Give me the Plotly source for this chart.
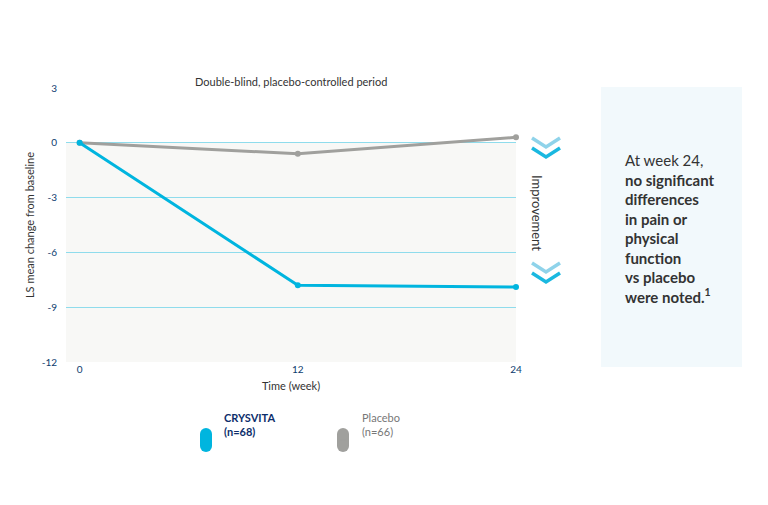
import plotly.graph_objects as go

weeks = [0, 12, 24]
crysvita = [0, -7.8, -7.9]
placebo = [0, -0.6, 0.3]
yticks = [3, 0, -3, -6, -9, -12]
ytick_labels = ["3", "0", "-3", "-6", "-9", "-12"]
xticks = [0, 12, 24]

OFF = 8
W, H = 768 - OFF, 505 - OFF
L, R, T, B = 66, 516, 88, 362
def px(x): return (x - L) / (R - L)
def py(y): return (B - y) / (B - T)

BLUE = "#00b5df"
GREY = "#a0a09d"
FONT = "Lato, Nunito, sans-serif"

fig = go.Figure()
fig.add_trace(go.Scatter(x=weeks, y=placebo, mode="lines+markers", line=dict(color=GREY, width=3),
                         marker=dict(size=6, color=GREY), showlegend=False, cliponaxis=False))
fig.add_trace(go.Scatter(x=weeks, y=crysvita, mode="lines+markers", line=dict(color=BLUE, width=3),
                         marker=dict(size=6, color=BLUE), showlegend=False, cliponaxis=False))

shapes = [
    dict(type="rect", xref="x", yref="y", x0=-0.75, x1=24, y0=-12, y1=0, fillcolor="#f8f8f6",
         line=dict(width=0), layer="below"),
    dict(type="rect", xref="paper", yref="paper", x0=px(601), x1=px(742), y0=py(367), y1=py(87),
         fillcolor="#f2f9fc", line=dict(width=0), layer="below"),
]
def chevron(cx, cy, color):
    pts = [(cx - 14, cy - 5), (cx, cy + 4), (cx + 14, cy - 5)]
    p = "M " + " L ".join(f"{px(a)},{py(b)}" for a, b in pts)
    return dict(type="path", xref="paper", yref="paper", path=p, line=dict(color=color, width=3.5))
for top in (143, 268):
    shapes.append(chevron(546, top, "#8fd3ea"))
    shapes.append(chevron(546, top + 10, "#1ab8e0"))
def pill(x, color):
    # rounded pill: draw as thick line with round caps approximated via circle+rect
    return [
        dict(type="rect", xref="paper", yref="paper", x0=px(x), x1=px(x + 12), y0=py(446), y1=py(434),
             fillcolor=color, line=dict(width=0)),
        dict(type="circle", xref="paper", yref="paper", x0=px(x), x1=px(x + 12), y0=py(440), y1=py(428),
             fillcolor=color, line=dict(width=0)),
        dict(type="circle", xref="paper", yref="paper", x0=px(x), x1=px(x + 12), y0=py(452), y1=py(440),
             fillcolor=color, line=dict(width=0)),
    ]
shapes += pill(200, BLUE) + pill(337, GREY)

ann = [
    dict(x=0.5, y=py(73), xref="paper", yref="paper", text="Double-blind, placebo-controlled period",
         showarrow=False, font=dict(size=11, color="#333")),
    dict(x=24.1, y=0.3, text="0.3", showarrow=False, xanchor="right", yanchor="bottom", yshift=2,
         font=dict(size=25, color=GREY)),
    dict(x=24.1, y=-7.9, text="-7.9", showarrow=False, xanchor="right", yanchor="bottom", yshift=3,
         font=dict(size=25, color=BLUE)),
    dict(x=px(547), y=py(213), xref="paper", yref="paper", text="Improvement", textangle=90,
         showarrow=False, font=dict(size=13, color="#333")),
    dict(x=px(623), y=py(228), xref="paper", yref="paper", xanchor="left", align="left", showarrow=False,
         text="At week 24,<br><b>no significant<br>differences<br>in pain or<br>physical<br>function<br>vs placebo<br>were noted.<sup>1</sup></b>",
         font=dict(size=15, color="#333")),
    dict(x=px(222), y=py(440), xref="paper", yref="paper", xanchor="left", align="left", showarrow=False,
         text="<b>CRYSVITA<br>(n=68)</b>", font=dict(size=11, color="#0d2e6b")),
    dict(x=px(360), y=py(440), xref="paper", yref="paper", xanchor="left", align="left", showarrow=False,
         text="Placebo<br>(n=66)", font=dict(size=11, color="#777")),
]

fig.update_layout(
    width=W, height=H, margin=dict(l=L - OFF, r=W - (R - OFF), t=T - OFF, b=H - (B - OFF)),
    paper_bgcolor="white", plot_bgcolor="rgba(0,0,0,0)", font=dict(family=FONT),
    shapes=shapes, annotations=ann,
    xaxis=dict(range=[-0.75, 24], tickvals=xticks, showgrid=False, zeroline=False, showline=False,
               tickfont=dict(size=10, color="#0d3c6e"),
               title=dict(text="Time (week)", font=dict(size=11, color="#333"), standoff=8)),
    yaxis=dict(range=[-12, 3], tickvals=yticks, ticktext=ytick_labels, gridcolor="#8fdcec", gridwidth=1,
               zeroline=False, tickfont=dict(size=10, color="#0d3c6e"), ticklabelstandoff=8,
               title=dict(text="LS mean change from baseline", font=dict(size=11, color="#333"), standoff=4)),
)
fig.write_html("out.html")
